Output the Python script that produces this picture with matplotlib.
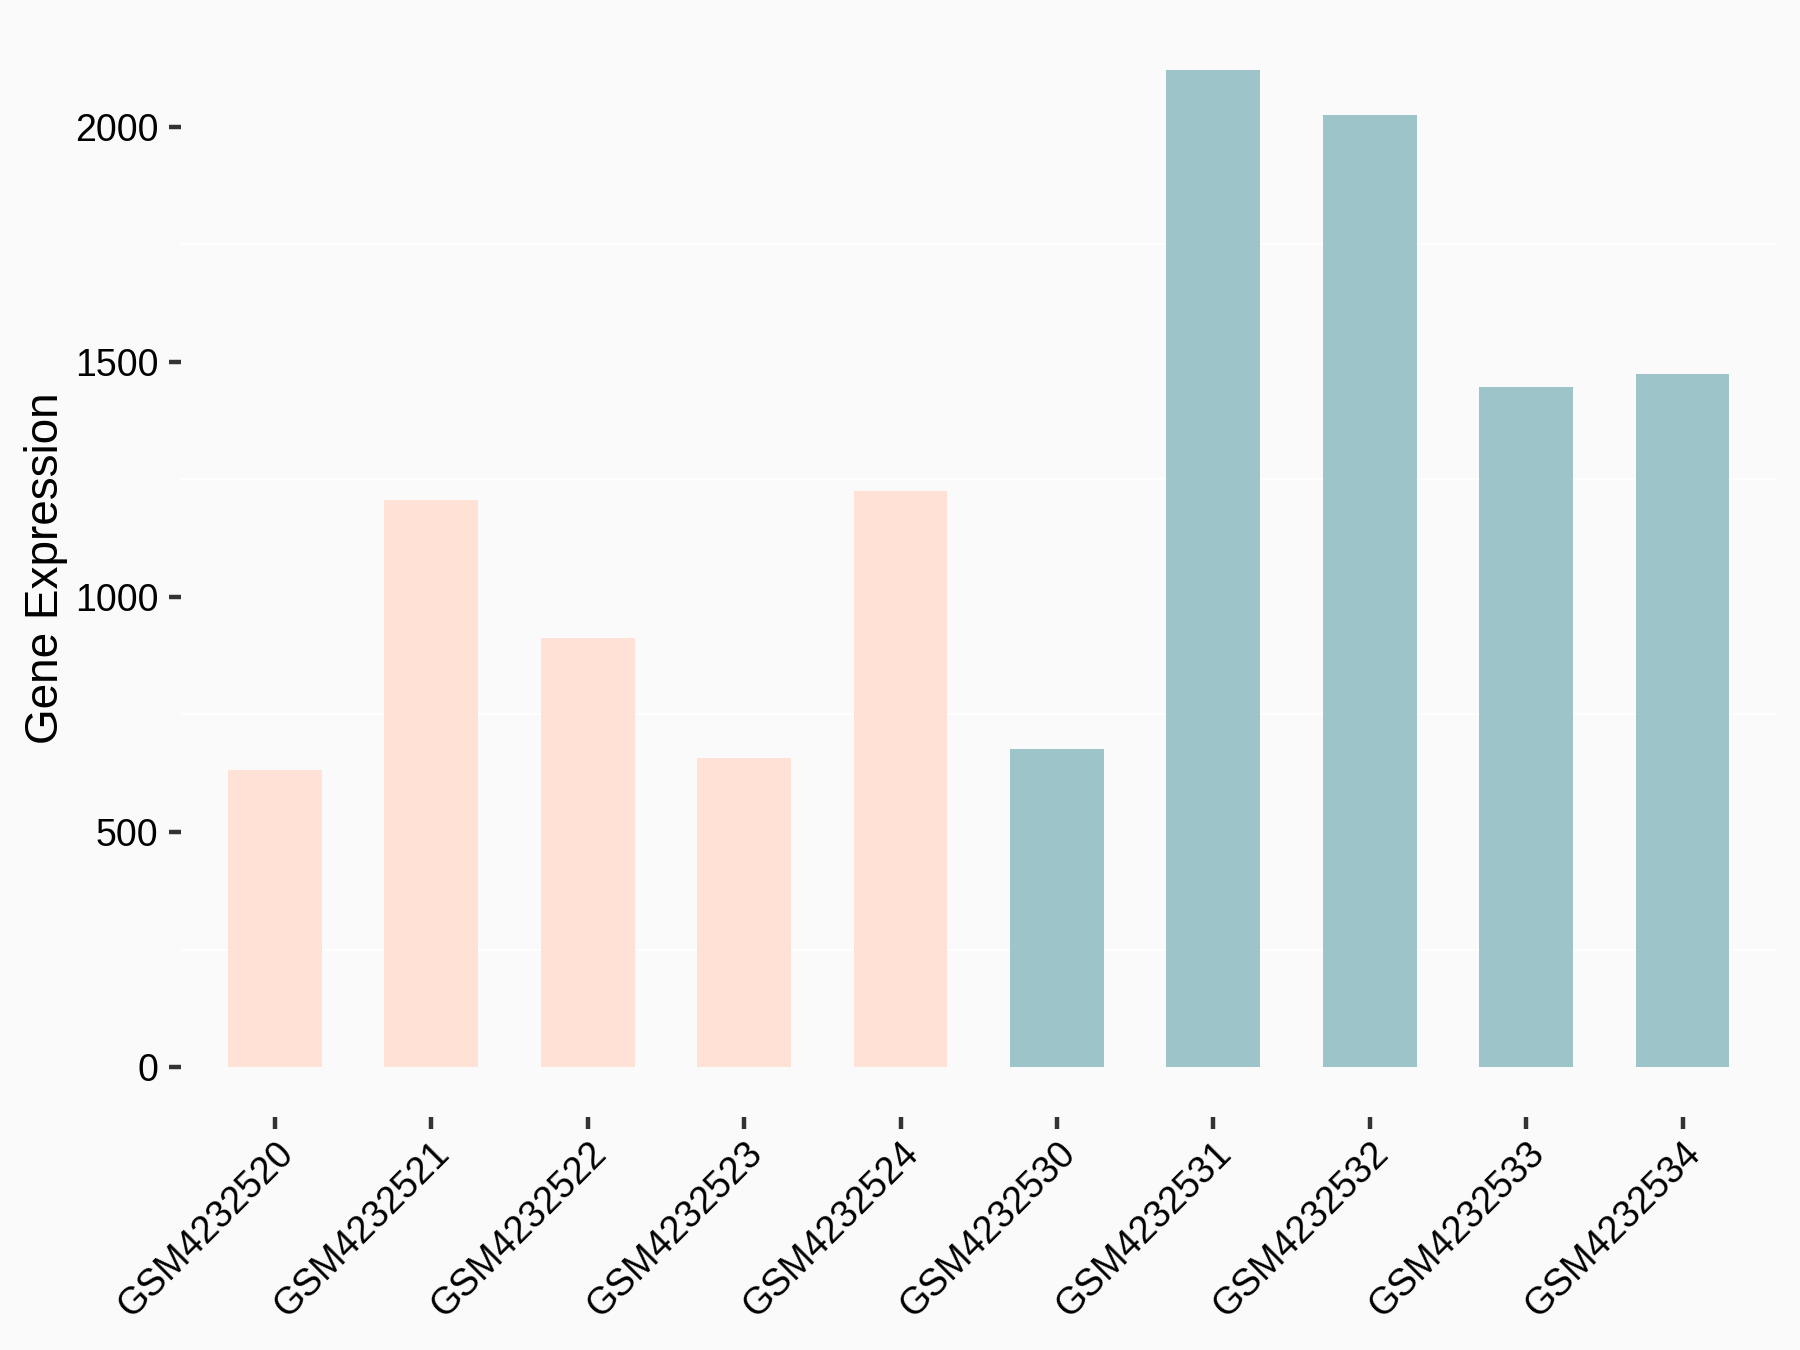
import numpy as np
import matplotlib.pyplot as plt

# samples and their expression values
samples = ["GSM4232520", "GSM4232521", "GSM4232522", "GSM4232523", "GSM4232524",
           "GSM4232530", "GSM4232531", "GSM4232532", "GSM4232533", "GSM4232534"]
values = [632, 1206, 913, 657, 1226, 676, 2120, 2024, 1446, 1475]
groups = ["A", "A", "A", "A", "A", "B", "B", "B", "B", "B"]

group_colors = {"A": "#FFE1D6", "B": "#9DC4C8"}
y_ticks = [0, 500, 1000, 1500, 2000]
y_minor = [250, 750, 1250, 1750]

plt.rcParams['font.family'] = ['Liberation Sans', 'DejaVu Sans']

fig = plt.figure(figsize=(18, 13.5), dpi=100)
fig.patch.set_facecolor('#FAFAFA')
ax = fig.add_axes([0.1006, 0.1726, 0.8863, 0.8123])
ax.set_facecolor('#FAFAFA')

x = np.arange(len(samples))
ax.bar(x, values, width=0.6, color=[group_colors[g] for g in groups], zorder=2)

# ggplot-like expansion
ax.set_xlim(-0.6, len(samples) - 1 + 0.6)
ymax = max(values)
ax.set_ylim(-0.05 * ymax, ymax * 1.05)

ax.set_yticks(y_ticks)
ax.set_yticks(y_minor, minor=True)
ax.grid(which='minor', axis='y', color='white', linewidth=1.5, zorder=0)
ax.tick_params(axis='y', which='minor', length=0)

ax.set_xticks(x)
ax.set_xticklabels(samples, rotation=45, ha='right', va='top', rotation_mode='anchor')

ax.tick_params(axis='both', which='major', length=8.5, width=3.2, color='#333333',
               labelsize=27, labelcolor='black')
ax.tick_params(axis='y', which='major', pad=8)
ax.tick_params(axis='x', which='major', pad=5)

for s in ax.spines.values():
    s.set_visible(False)

ax.set_ylabel("Gene Expression", fontsize=33, labelpad=5)

fig.savefig("out.png", dpi=100, facecolor=fig.get_facecolor())
